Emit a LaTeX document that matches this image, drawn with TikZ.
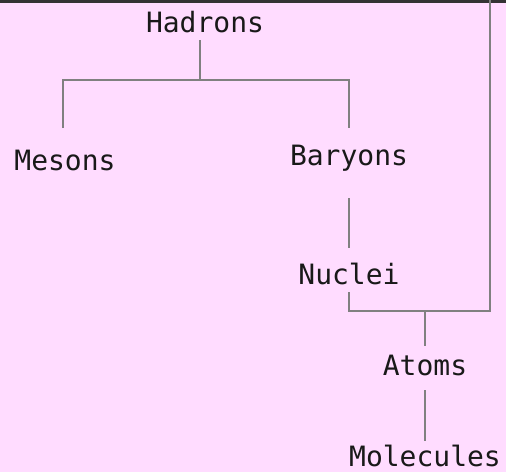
\documentclass[tikz,border=0pt]{standalone}
\usepackage{fontspec}
\newfontfamily\labelfont{DejaVu Sans Mono}
\begin{document}
\begin{tikzpicture}[x=1pt,y=-1pt,
  lbl/.style={font=\labelfont\fontsize{28}{30}\selectfont, text=black!90, inner sep=0pt, anchor=center},
  conn/.style={draw=black!50, line width=1.8pt}]
\fill[fill={rgb,255:red,255;green,220;blue,255}] (0,0) rectangle (506,472);
\useasboundingbox (0,0) rectangle (506,472);
\draw[line width=3pt, black!80] (0,1.5) -- (506,1.5);
\node[lbl] (had) at (205,22) {Hadrons};
\node[lbl] (mes) at (65,160) {Mesons};
\node[lbl] (bar) at (349,158) {Baryons};
\node[lbl] (nuc) at (349,274) {Nuclei};
\node[lbl] (ato) at (425,365) {Atoms};
\node[lbl] (mol) at (425,456) {Molecules};
\coordinate (h1) at (200,40);
\coordinate (hj) at (200,80);
\coordinate (hl) at (63,80);
\coordinate (hr) at (349,80);
\coordinate (ml) at (63,128);
\coordinate (br) at (349,128);
\coordinate (b1) at (349,198);
\coordinate (n0) at (349,248);
\coordinate (n1) at (349,292);
\coordinate (nj) at (349,311);
\coordinate (aj) at (425,311);
\coordinate (rc) at (490,311);
\coordinate (rt) at (490,0);
\coordinate (a0) at (425,346);
\coordinate (a1) at (425,390);
\coordinate (m0) at (425,441);
\draw[conn] (h1) -- (hj);
\draw[conn] (ml) -- (hl) -- (hr) -- (br);
\draw[conn] (b1) -- (n0);
\draw[conn] (n1) -- (nj) -- (rc) -- (rt);
\draw[conn] (aj) -- (a0);
\draw[conn] (a1) -- (m0);
\end{tikzpicture}
\end{document}
